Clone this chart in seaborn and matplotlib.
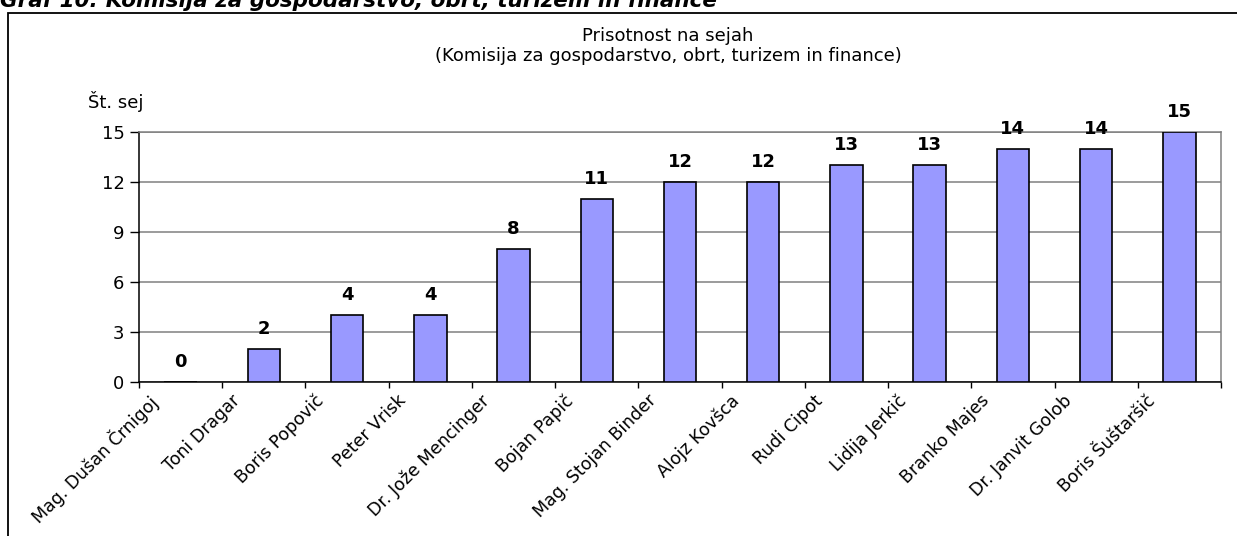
import numpy as np
import pandas as pd
import matplotlib
matplotlib.use("Agg")
import matplotlib.pyplot as plt
import matplotlib.transforms as mtrans
from matplotlib.patches import Rectangle
import seaborn as sns

# attendance per member
members = [
    "Mag. Dušan Črnigoj", "Toni Dragar", "Boris Popovič", "Peter Vrisk",
    "Dr. Jože Mencinger", "Bojan Papič", "Mag. Stojan Binder", "Alojz Kovšca",
    "Rudi Cipot", "Lidija Jerkič", "Branko Majes", "Dr. Janvit Golob",
    "Boris Šuštaršič",
]
sessions = [0, 2, 4, 4, 8, 11, 12, 12, 13, 13, 14, 14, 15]
y_ticks = [0, 3, 6, 9, 12, 15]

df = pd.DataFrame({"clan": members, "seje": sessions})

sns.set_style("white")
plt.rcParams["font.family"] = ["DejaVu Sans"]
plt.rcParams["text.color"] = "black"
plt.rcParams["xtick.color"] = "black"
plt.rcParams["ytick.color"] = "black"
plt.rcParams["axes.labelcolor"] = "black"

W, H = 1237, 536
fig = plt.figure(figsize=(W / 100, H / 100), dpi=100)
ax = fig.add_axes([139 / W, 1 - 382 / H, (1221 - 139) / W, 250 / H])

sns.barplot(data=df, x="clan", y="seje", color="#9999FF", saturation=1,
            edgecolor="black", linewidth=1.2, width=0.39, ax=ax, zorder=3)

ax.set_ylim(0, 15)
ax.set_xlim(-0.5, len(members) - 0.5)
ax.set_yticks(y_ticks)
ax.yaxis.grid(True, color="#808080", linewidth=1.1, zorder=0)
ax.set_axisbelow(True)
ax.set_xlabel("")
ax.set_ylabel("")

for s in ["left", "bottom"]:
    ax.spines[s].set_color("black")
    ax.spines[s].set_linewidth(1.1)
for s in ["top", "right"]:
    ax.spines[s].set_color("#808080")
    ax.spines[s].set_linewidth(1.1)

ax.tick_params(axis="y", direction="out", length=6.5, width=1, pad=4,
               labelsize=13, left=True, colors="black")
ax.set_xticks(np.arange(len(members)))
ax.set_xticks(np.arange(-0.5, len(members)), minor=True)
ax.tick_params(axis="x", which="major", length=0, pad=7, colors="black")
ax.tick_params(axis="x", which="minor", direction="out", length=4.5,
               width=1, bottom=True, colors="black")
ax.set_xticklabels(members, rotation=45, ha="right", va="top",
                   rotation_mode="anchor", fontsize=12.5, color="black")
shift = mtrans.ScaledTranslation(-33 / 100, 0, fig.dpi_scale_trans)
for lab in ax.get_xticklabels():
    lab.set_transform(lab.get_transform() + shift)

ax.bar_label(ax.containers[0], padding=8, fontsize=13, fontweight="bold",
             color="black")

fig.text(668 / W, 1 - 36 / H, "Prisotnost na sejah", ha="center",
         va="center", fontsize=13)
fig.text(668 / W, 1 - 56 / H,
         "(Komisija za gospodarstvo, obrt, turizem in finance)",
         ha="center", va="center", fontsize=13)
fig.text(88 / W, 1 - 102 / H, "Št. sej", ha="left", va="center", fontsize=13)

# heading above the chart frame, cut off by the image edge
fig.text(0, 1 - 7 / H,
         "Graf 10: Komisija za gospodarstvo, obrt, turizem in finance",
         ha="left", va="baseline", fontsize=15.5, fontweight="bold",
         fontstyle="italic")

frame = Rectangle((8 / W, -0.1), 1.2, 1.1 - 13 / H, transform=fig.transFigure,
                  fill=False, edgecolor="black", linewidth=1.3)
fig.add_artist(frame)

fig.savefig("out.png", dpi=100)
